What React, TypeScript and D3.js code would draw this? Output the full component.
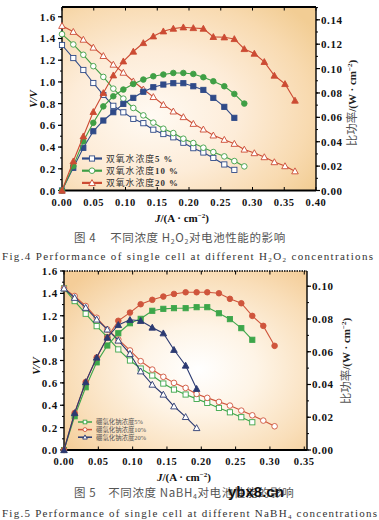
import React from 'react';
import * as d3 from 'd3';

// ---------- Fig.4 data (H2O2 concentration) ----------
const fig4J = [0, 0.0178, 0.0336, 0.0493, 0.0651, 0.0808, 0.0966, 0.1123, 0.1281, 0.1438, 0.1596, 0.1753, 0.1911, 0.2068, 0.2226, 0.2383, 0.2556, 0.2714, 0.2871, 0.3029, 0.3186, 0.3344, 0.3512, 0.3669];
const fig4V5 = [1.34, 1.22, 1.11, 0.99, 0.88, 0.78, 0.72, 0.66, 0.62, 0.56, 0.52, 0.49, 0.44, 0.39, 0.35, 0.30, 0.24, 0.19];
const fig4P5 = [0, 0.0186, 0.035, 0.0486, 0.0574, 0.0642, 0.071, 0.076, 0.081, 0.0847, 0.0869, 0.088, 0.088, 0.0855, 0.0825, 0.076, 0.0686, 0.0596];
const fig4V10 = [1.44, 1.345, 1.25, 1.145, 1.046, 0.938, 0.846, 0.76, 0.692, 0.625, 0.569, 0.529, 0.477, 0.437, 0.394, 0.354, 0.314, 0.271, 0.222];
const fig4P10 = [0, 0.020, 0.0404, 0.0555, 0.069, 0.0773, 0.0828, 0.0874, 0.091, 0.0937, 0.0951, 0.0964, 0.0964, 0.0956, 0.0929, 0.0896, 0.0855, 0.0792, 0.0713];
const fig4V20 = [1.517, 1.462, 1.39, 1.317, 1.24, 1.16, 1.086, 1.006, 0.932, 0.862, 0.79, 0.729, 0.677, 0.615, 0.563, 0.508, 0.468, 0.431, 0.378, 0.345, 0.308, 0.262, 0.225, 0.178];
const fig4P20 = [0, 0.024, 0.0445, 0.0645, 0.080, 0.0945, 0.106, 0.114, 0.121, 0.1265, 0.1306, 0.1328, 0.1339, 0.1333, 0.1328, 0.126, 0.1257, 0.1243, 0.1161, 0.1123, 0.1055, 0.0943, 0.0874, 0.0738];
const fig4Labels = ['双氧水浓度5 %', '双氧水浓度10 %', '双氧水浓度20 %'];

// ---------- Fig.5 data (NaBH4 concentration) ----------
const fig5J = [0, 0.0155, 0.0316, 0.0476, 0.0631, 0.0791, 0.0961, 0.1117, 0.1286, 0.1447, 0.1602, 0.1772, 0.1932, 0.2087, 0.2257, 0.2417, 0.2583, 0.2743, 0.2903, 0.3068];
const fig5V5 = [1.445, 1.331, 1.218, 1.107, 1.009, 0.899, 0.80, 0.728, 0.666, 0.594, 0.54, 0.496, 0.457, 0.421, 0.376, 0.337, 0.293, 0.248];
const fig5P5 = [0, 0.0206, 0.0383, 0.0535, 0.0638, 0.0713, 0.0774, 0.0801, 0.085, 0.0862, 0.0866, 0.0866, 0.0872, 0.0872, 0.0835, 0.0799, 0.0744, 0.0673];
const fig5V10 = [1.445, 1.376, 1.287, 1.182, 1.078, 0.988, 0.89, 0.794, 0.719, 0.654, 0.60, 0.555, 0.501, 0.466, 0.43, 0.397, 0.352, 0.31, 0.263, 0.212];
const fig5P10 = [0, 0.0226, 0.0415, 0.0565, 0.0687, 0.0789, 0.0839, 0.089, 0.0917, 0.0937, 0.0953, 0.0963, 0.0963, 0.0963, 0.0957, 0.0923, 0.0896, 0.0819, 0.0758, 0.0636];
const fig5V20 = [1.445, 1.361, 1.272, 1.167, 1.078, 0.979, 0.86, 0.704, 0.585, 0.496, 0.391, 0.296, 0.197];
const fig5P20 = [0, 0.0226, 0.0415, 0.0565, 0.0687, 0.0764, 0.0795, 0.0789, 0.0748, 0.0713, 0.0612, 0.0516, 0.0374];
const fig5Labels = ['硼氢化钠浓度5%', '硼氢化钠浓度10%', '硼氢化钠浓度20%'];

const xTicks4 = [0, 0.05, 0.1, 0.15, 0.2, 0.25, 0.3, 0.35, 0.4];
const xTicks5 = [0, 0.05, 0.1, 0.15, 0.2, 0.25, 0.3, 0.35];

type Shape = 'square' | 'circle' | 'triangle';
type Series = { v: number[]; p: number[]; color: string; shape: Shape; label: string };

const SERIF = '"Liberation Serif", "DejaVu Serif", serif';
const CJK = '"Noto Sans CJK SC", sans-serif';

function Marker({ shape, x, y, color, filled, s = 1 }: { shape: Shape; x: number; y: number; color: string; filled: boolean; s?: number }) {
  const fill = filled ? color : '#ffffff';
  const sw = 0.9;
  if (shape === 'square') {
    const a = 2.6 * s;
    return <rect x={x - a} y={y - a} width={2 * a} height={2 * a} fill={fill} stroke={color} strokeWidth={sw} />;
  }
  if (shape === 'circle') {
    return <circle cx={x} cy={y} r={2.8 * s} fill={fill} stroke={color} strokeWidth={sw} />;
  }
  const h = 3.3 * s;
  const pts = `${x},${y - h} ${x + h},${y + h * 0.8} ${x - h},${y + h * 0.8}`;
  return <polygon points={pts} fill={fill} stroke={color} strokeWidth={sw} />;
}

type PanelProps = {
  id: string;
  left: number; right: number; top: number; bottom: number;
  xMax: number; yMax: number; y2Max: number;
  xTicks: number[]; yTicks: number[]; y2Ticks: number[];
  j: number[]; series: Series[];
  dottedTop: boolean;
  grad: React.ReactNode;
};

function Panel(p: PanelProps) {
  const x = d3.scaleLinear().domain([0, p.xMax]).range([p.left, p.right]);
  const y = d3.scaleLinear().domain([0, p.yMax]).range([p.bottom, p.top]);
  const y2 = d3.scaleLinear().domain([0, p.y2Max]).range([p.bottom, p.top]);
  const lineV = (s: Series) => d3.line<number>().x((_, i) => x(p.j[i])).y((d) => y(d))(s.v) || '';
  const lineP = (s: Series) => d3.line<number>().x((_, i) => x(p.j[i])).y((d) => y2(d))(s.p) || '';
  const yMinor = d3.range(0, p.yMax + 1e-9, 0.1);
  const y2Minor = d3.range(0, p.y2Max + 1e-9, 0.01);
  return (
    <g>
      <defs>{p.grad}</defs>
      <rect x={p.left} y={p.top} width={p.right - p.left} height={p.bottom - p.top} fill={`url(#${p.id})`} />
      <line x1={p.left} x2={p.right} y1={p.top} y2={p.top} stroke="#000" strokeWidth={p.dottedTop ? 1.5 : 2.2} strokeDasharray={p.dottedTop ? '1.5,1' : undefined} />
      <line x1={p.left} x2={p.right} y1={p.bottom} y2={p.bottom} stroke="#000" strokeWidth={1.8} />
      <line x1={p.left} x2={p.left} y1={p.top} y2={p.bottom} stroke="#000" strokeWidth={1.4} />
      <line x1={p.right} x2={p.right} y1={p.top} y2={p.bottom} stroke="#000" strokeWidth={1.4} />
      {p.xTicks.map((t) => (
        <g key={'xt' + t}>
          <line x1={x(t)} x2={x(t)} y1={p.bottom} y2={p.bottom - 3.5} stroke="#000" strokeWidth={1} />
          <line x1={x(t)} x2={x(t)} y1={p.top} y2={p.top + 3.5} stroke="#000" strokeWidth={1} />
          <text x={x(t)} y={p.bottom + 15} textAnchor="middle" fontFamily={SERIF} fontWeight="bold" fontSize={10.5} letterSpacing={0.6} fill="#111">{d3.format('.2f')(t)}</text>
        </g>
      ))}
      {yMinor.map((t, i) => (
        <line key={'ylm' + i} x1={p.left} x2={p.left - 2} y1={y(t)} y2={y(t)} stroke="#000" strokeWidth={1} />
      ))}
      {p.yTicks.map((t) => (
        <g key={'yt' + t}>
          <line x1={p.left} x2={p.left - 4} y1={y(t)} y2={y(t)} stroke="#000" strokeWidth={1.2} />
          <text x={p.left - 6} y={y(t) + 4} textAnchor="end" fontFamily={SERIF} fontWeight="bold" fontSize={11} letterSpacing={0.8} fill="#111">{d3.format('.1f')(t)}</text>
        </g>
      ))}
      {y2Minor.map((t, i) => (
        <line key={'y2m' + i} x1={p.right} x2={p.right + 2} y1={y2(t)} y2={y2(t)} stroke="#000" strokeWidth={1} />
      ))}
      {p.y2Ticks.map((t) => (
        <g key={'y2t' + t}>
          <line x1={p.right} x2={p.right + 4} y1={y2(t)} y2={y2(t)} stroke="#000" strokeWidth={1.2} />
          <text x={p.right + 5} y={y2(t) + 4} textAnchor="start" fontFamily={SERIF} fontWeight="bold" fontSize={11} letterSpacing={0.6} fill="#111">{d3.format('.2f')(t)}</text>
        </g>
      ))}
      {p.series.map((s, k) => (
        <g key={'v' + k}>
          <path d={lineV(s)} fill="none" stroke={s.color} strokeWidth={1.1} />
          {s.v.map((d, i) => <Marker key={i} shape={s.shape} x={x(p.j[i])} y={y(d)} color={s.color} filled={false} />)}
        </g>
      ))}
      {p.series.map((s, k) => (
        <g key={'p' + k}>
          <path d={lineP(s)} fill="none" stroke={s.color} strokeWidth={1.1} />
          {s.p.map((d, i) => <Marker key={i} shape={s.shape} x={x(p.j[i])} y={y2(d)} color={s.color} filled={true} />)}
        </g>
      ))}
    </g>
  );
}

function Legend({ series, x0, y0, dy, lineLen, fontSize, s, textColor, bold, spacing }: { series: Series[]; x0: number; y0: number; dy: number; lineLen: number; fontSize: number; s: number; textColor: string; bold: boolean; spacing: number }) {
  return (
    <g>
      {series.map((se, i) => {
        const yy = y0 + i * dy;
        const m = se.label.match(/^(\D+)(.*)$/) || ['', se.label, ''];
        return (
          <g key={i}>
            <line x1={x0} x2={x0 + lineLen} y1={yy} y2={yy} stroke={se.color} strokeWidth={s > 0.8 ? 2.2 : 1.5} />
            <Marker shape={se.shape} x={x0 + lineLen / 2} y={yy} color={se.color} filled={false} s={s} />
            <text x={x0 + lineLen + 4} y={yy + fontSize * 0.36} fontSize={fontSize} fill={textColor} letterSpacing={spacing} fontFamily={CJK}>
              {m[1]}
              <tspan fontFamily={SERIF} fontWeight={bold ? 'bold' : 'normal'}>{m[2]}</tspan>
            </text>
          </g>
        );
      })}
    </g>
  );
}

function RightTitle({ cx, cy }: { cx: number; cy: number }) {
  return (
    <text transform={`translate(${cx},${cy}) rotate(-90)`} textAnchor="middle" fontSize={11} fill="#222">
      <tspan fontFamily={CJK} fill="#555" fontSize={11.5}>比功率</tspan>
      <tspan fontFamily={SERIF} fontWeight="bold">/(W · cm</tspan>
      <tspan fontFamily={SERIF} fontWeight="bold" fontSize={7} dy={-4}>−2</tspan>
      <tspan fontFamily={SERIF} fontWeight="bold" dy={4}>)</tspan>
    </text>
  );
}

function XTitle({ x, y }: { x: number; y: number }) {
  return (
    <text x={x} y={y} textAnchor="middle" fontFamily={SERIF} fontWeight="bold" fontSize={11} fill="#111">
      <tspan fontStyle="italic">J</tspan>
      <tspan>/(A · cm</tspan>
      <tspan fontSize={7} dy={-4}>−2</tspan>
      <tspan dy={4}>)</tspan>
    </text>
  );
}

export default function App() {
  const navy1 = '#2f4a88';
  const green1 = '#3f9f45';
  const red1 = '#cc4b33';
  const s4: Series[] = [
    { v: fig4V5, p: fig4P5, color: navy1, shape: 'square', label: fig4Labels[0] },
    { v: fig4V10, p: fig4P10, color: green1, shape: 'circle', label: fig4Labels[1] },
    { v: fig4V20, p: fig4P20, color: red1, shape: 'triangle', label: fig4Labels[2] },
  ];
  const s5: Series[] = [
    { v: fig5V5, p: fig5P5, color: '#3da64a', shape: 'square', label: fig5Labels[0] },
    { v: fig5V10, p: fig5P10, color: '#cf553c', shape: 'circle', label: fig5Labels[1] },
    { v: fig5V20, p: fig5P20, color: '#2b3a72', shape: 'triangle', label: fig5Labels[2] },
  ];
  const grad4 = (
    <radialGradient id="g4" cx="0.38" cy="0.55" r="0.75" fx="0.35" fy="0.6">
      <stop offset="0" stopColor="#fffaf3" />
      <stop offset="0.45" stopColor="#fdecd8" />
      <stop offset="0.8" stopColor="#f8dab0" />
      <stop offset="1" stopColor="#f2cd94" />
    </radialGradient>
  );
  const grad5 = (
    <radialGradient id="g5" cx="0.55" cy="0.55" r="0.7" fx="0.55" fy="0.55">
      <stop offset="0" stopColor="#ffffff" />
      <stop offset="0.35" stopColor="#fef4e6" />
      <stop offset="0.75" stopColor="#f9deb9" />
      <stop offset="1" stopColor="#f4cd98" />
    </radialGradient>
  );
  const y2Ticks4 = d3.range(0, 0.1401, 0.02);
  const y2Ticks5 = d3.range(0, 0.1001, 0.02);
  const yTicks = d3.range(0, 1.601, 0.2);
  return (
    <svg width={379} height={520} style={{ position: 'absolute', left: 0, top: 0, background: '#fff' }}>
      <rect x={0} y={0} width={379} height={520} fill="#fff" />
      <Panel id="g4" grad={grad4} left={62} right={316} top={7} bottom={190.5} xMax={0.4} yMax={1.69} y2Max={0.1505}
        xTicks={xTicks4} yTicks={yTicks} y2Ticks={y2Ticks4} j={fig4J} series={s4} dottedTop={false} />
      <Legend series={s4} x0={82} y0={158.5} dy={12.2} lineLen={20} fontSize={8.8} s={1} textColor="#333" bold={true} spacing={1} />
      <text transform="translate(37,99) rotate(-90)" textAnchor="middle" fontFamily={SERIF} fontWeight="bold" fontStyle="italic" fontSize={11} fill="#111">V/V</text>
      <RightTitle cx={356} cy={103} />
      <XTitle x={182} y={222} />
      <text x={74} y={242} fontFamily={CJK} fontSize={11.5} fill="#555" letterSpacing={0.6}>
        图 4<tspan dx={14}>不同浓度 H</tspan><tspan fontSize={7} dy={2}>2</tspan><tspan dy={-2}>O</tspan><tspan fontSize={7} dy={2}>2</tspan><tspan dy={-2}>对电池性能的影响</tspan>
      </text>
      <text x={2} y={260} fontFamily={SERIF} fontSize={11} fill="#333" textLength={371} lengthAdjust="spacing">
        Fig.4  Performance of single cell at different H<tspan fontSize={7} dy={2}>2</tspan><tspan dy={-2}>O</tspan><tspan fontSize={7} dy={2}>2</tspan><tspan dy={-2}> concentrations</tspan>
      </text>

      <Panel id="g5" grad={grad5} left={64} right={307} top={271} bottom={450} xMax={0.354} yMax={1.6} y2Max={0.1093}
        xTicks={xTicks5} yTicks={yTicks} y2Ticks={y2Ticks5} j={fig5J} series={s5} dottedTop={true} />
      <Legend series={s5} x0={78} y0={422} dy={7.6} lineLen={14} fontSize={6.4} s={0.7} textColor="#555" bold={false} spacing={0} />
      <text transform="translate(40,366) rotate(-90)" textAnchor="middle" fontFamily={SERIF} fontWeight="bold" fontStyle="italic" fontSize={11} fill="#111">V/V</text>
      <RightTitle cx={350} cy={361} />
      <XTitle x={184} y={481} />
      <text x={74} y={497} fontFamily={CJK} fontSize={11.5} fill="#555" letterSpacing={0.6}>
        图 5<tspan dx={12}>不同浓度 NaBH</tspan><tspan fontSize={7} dy={2}>4</tspan><tspan dy={-2}>对电池性能的影响</tspan>
      </text>
      <text x={228} y={497} fontFamily='"Liberation Sans", Arial, sans-serif' fontWeight="bold" fontSize={15} fill="#111">ybx8.cn</text>
      <text x={2} y={517} fontFamily={SERIF} fontSize={11} fill="#333" textLength={375} lengthAdjust="spacing">
        Fig.5  Performance of single cell at different NaBH<tspan fontSize={7} dy={2}>4</tspan><tspan dy={-2}> concentrations</tspan>
      </text>
    </svg>
  );
}
